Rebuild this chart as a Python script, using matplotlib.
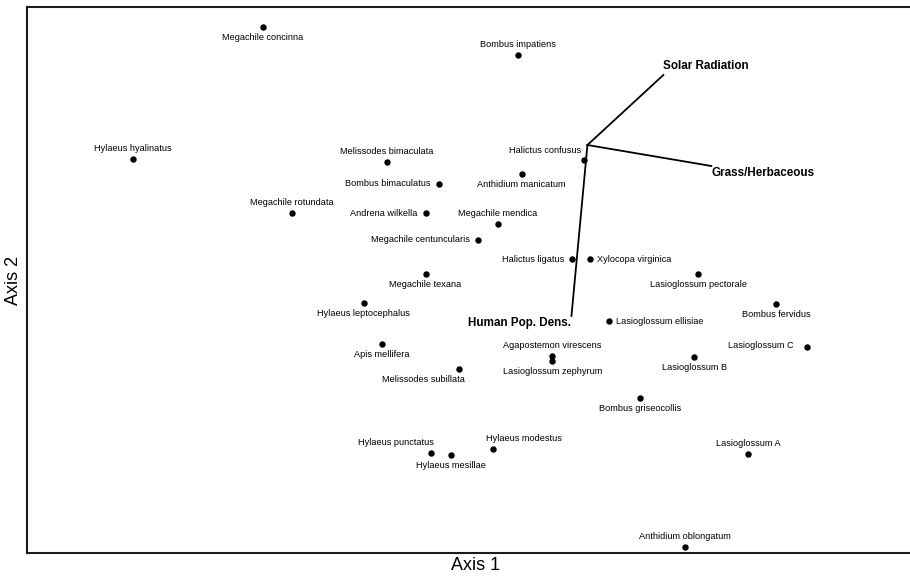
import matplotlib.pyplot as plt

plt.rcParams['font.family'] = ['Liberation Sans', 'DejaVu Sans']

# species scores (axis 1 to the right, axis 2 upward)
species = ['Megachile concinna', 'Bombus impatiens', 'Hylaeus hyalinatus',
           'Melissodes bimaculata', 'Bombus bimaculatus', 'Megachile rotundata',
           'Andrena wilkella', 'Megachile centuncularis', 'Megachile mendica',
           'Halictus confusus', 'Anthidium manicatum', 'Halictus ligatus',
           'Xylocopa virginica', 'Lasioglossum pectorale', 'Megachile texana',
           'Hylaeus leptocephalus', 'Apis mellifera', 'Melissodes subillata',
           'Bombus fervidus', 'Lasioglossum ellisiae', 'Agapostemon virescens',
           'Lasioglossum zephyrum', 'Lasioglossum B', 'Lasioglossum C',
           'Bombus griseocollis', 'Hylaeus punctatus', 'Hylaeus mesillae',
           'Hylaeus modestus', 'Lasioglossum A', 'Anthidium oblongatum']
axis1 = [263, 518, 133, 387, 439, 292, 426, 478, 498, 585, 522, 573, 591, 699,
         426, 364, 382, 459, 777, 610, 553, 553, 695, 808, 641, 431, 451, 493,
         749, 686]
axis2 = [550, 522, 418, 415, 393, 364, 364, 337, 353, 417, 403, 318, 318, 303,
         303, 274, 233, 208, 273, 256, 221, 216, 220, 230, 179, 124, 122, 128,
         123, 30]
# label placement: 'b' below, 'a' above, 'l' left, 'r' right, plus a few shifted ones
place = ['b', 'a', 'a', 'a', 'l', 'a', 'l', 'l', 'a', 'al', 'b', 'l', 'r', 'b',
         'b', 'b', 'b', 'bl', 'b', 'r', 'a', 'b', 'b', 'L', 'b', 'aL', 'b', 'aR',
         'a', 'a']

# environmental vectors
vec_names = ['Solar Radiation', 'Grass/Herbaceous', 'Human Pop. Dens.']
origin = (588, 432)
vec_x = [664, 712, 572]
vec_y = [502, 411, 261]

fig = plt.figure(figsize=(9.1, 5.77), dpi=100)
ax = fig.add_axes([27 / 910, 24 / 577, 1.0 - 27 / 910 + 0.01, 546 / 577])
ax.set_xlim(27, 920)
ax.set_ylim(24, 570)

ax.plot(axis1, axis2, 'o', color='black', markersize=3.6)

fs = 6.6
for name, x, y, p in zip(species, axis1, axis2, place):
    if p == 'b':
        ax.text(x, y - 6, name, ha='center', va='top', fontsize=fs)
    elif p == 'a':
        ax.text(x, y + 6, name, ha='center', va='bottom', fontsize=fs)
    elif p == 'l':
        ax.text(x - 8, y, name, ha='right', va='center', fontsize=fs)
    elif p == 'L':
        ax.text(x - 14, y + 1, name, ha='right', va='center', fontsize=fs)
    elif p == 'r':
        ax.text(x + 7, y, name, ha='left', va='center', fontsize=fs)
    elif p == 'al':
        ax.text(x - 3, y + 5, name, ha='right', va='bottom', fontsize=fs)
    elif p == 'bl':
        ax.text(x - 35, y - 6, name, ha='center', va='top', fontsize=fs)
    elif p == 'aL':
        ax.text(x + 3, y + 6, name, ha='right', va='bottom', fontsize=fs)
    elif p == 'aR':
        ax.text(x - 7, y + 6, name, ha='left', va='bottom', fontsize=fs)

for name, x, y in zip(vec_names, vec_x, vec_y):
    ax.plot([origin[0], x], [origin[1], y], color='black', linewidth=1.3)

ax.text(vec_x[0], vec_y[0] + 3, vec_names[0], ha='left', va='bottom',
        fontsize=8.4, fontweight='bold')
ax.text(vec_x[1], vec_y[1] - 1, vec_names[1], ha='left', va='top',
        fontsize=8.4, fontweight='bold')
ax.text(vec_x[2], vec_y[2] - 7, vec_names[2], ha='right', va='center',
        fontsize=8.4, fontweight='bold')

ax.set_xticks([])
ax.set_yticks([])
for s in ax.spines.values():
    s.set_linewidth(1.5)
    s.set_color('#1a1a1a')
ax.spines['right'].set_visible(False)

fig.text(476 / 910, 1 - 565 / 577, 'Axis 1', ha='center', va='center', fontsize=13)
fig.text(14 / 910, 1 - 280 / 577, 'Axis 2', ha='center', va='center',
         fontsize=13, rotation=90)

fig.savefig('out.png', dpi=100)
